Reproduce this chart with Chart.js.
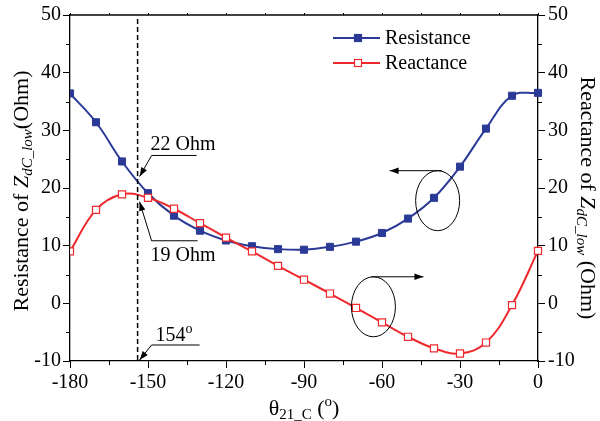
<!DOCTYPE html>
<html>
<head>
<meta charset="utf-8">
<script src="https://cdn.jsdelivr.net/npm/chart.js@4.4.1/dist/chart.umd.min.js"></script>
<style>
  html, body { margin: 0; padding: 0; background: #fff; }
  #wrap { width: 600px; height: 421px; }
</style>
</head>
<body>
<div id="wrap"><canvas id="chart" width="600" height="421"></canvas></div>
<script>
// phase angle theta_21_C in degrees
const angles = [-180, -170, -160, -150, -140, -130, -120, -110, -100, -90,
                -80, -70, -60, -50, -40, -30, -20, -10, 0];
// resistance and reactance of Z_dC_low (Ohm)
const resistance = [36.4, 31.4, 24.6, 19.1, 15.2, 12.6, 10.9, 9.9, 9.4, 9.3,
                    9.8, 10.7, 12.2, 14.7, 18.3, 23.7, 30.3, 36.0, 36.5];
const reactance = [9.0, 16.2, 18.9, 18.3, 16.4, 13.9, 11.4, 9.0, 6.5, 4.1,
                   1.7, -0.8, -3.3, -5.8, -7.8, -8.7, -6.8, -0.3, 9.1];

const xTicks = [-180, -150, -120, -90, -60, -30, 0];
const yTicks = [-10, 0, 10, 20, 30, 40, 50];

// marked operating point
const markAngle = -154;
const markResistance = 22;
const markReactance = 19;

const BLUE = '#2B3A96';
const RED = '#EE2A2E';
const SERIF = '"Liberation Serif", "Times New Roman", serif';

function toPoints(ys) {
    return angles.map((a, i) => ({ x: a, y: ys[i] }));
}

// draw a row of text pieces with different fonts / baseline shifts
function drawRuns(ctx, runs, x, y, align) {
    let total = 0;
    runs.forEach(r => { ctx.font = r.font; r.w = ctx.measureText(r.text).width; total += r.w; });
    let cx = align === 'center' ? x - total / 2 : x;
    ctx.textAlign = 'left';
    ctx.textBaseline = 'alphabetic';
    runs.forEach(r => {
        ctx.font = r.font;
        ctx.fillText(r.text, cx, y + (r.dy || 0));
        cx += r.w;
    });
}

function arrowHead(ctx, fromX, fromY, toX, toY) {
    const ang = Math.atan2(toY - fromY, toX - fromX);
    const len = 9, half = 3.2;
    ctx.beginPath();
    ctx.moveTo(toX, toY);
    ctx.lineTo(toX - len * Math.cos(ang) + half * Math.sin(ang), toY - len * Math.sin(ang) - half * Math.cos(ang));
    ctx.lineTo(toX - len * Math.cos(ang) - half * Math.sin(ang), toY - len * Math.sin(ang) + half * Math.cos(ang));
    ctx.closePath();
    ctx.fill();
}

const decorations = {
    id: 'decorations',
    afterDraw(chart) {
        const { ctx, chartArea: area } = chart;
        const xs = chart.scales.x, ys = chart.scales.y;
        const f20 = '20px ' + SERIF;
        const f22 = '22px ' + SERIF;
        const fi22 = 'italic 22px ' + SERIF;
        const fi15 = 'italic 15px ' + SERIF;
        const f15 = '15px ' + SERIF;
        const f14 = '14px ' + SERIF;
        ctx.save();
        ctx.strokeStyle = '#000';
        ctx.fillStyle = '#000';

        // top frame line
        ctx.lineWidth = 1.3;
        ctx.beginPath();
        ctx.moveTo(area.left, area.top);
        ctx.lineTo(area.right, area.top);
        ctx.stroke();

        // minor ticks
        ctx.lineWidth = 1;
        ctx.beginPath();
        for (let v = -180; v <= 0; v += 15) {
            const px = Math.round(xs.getPixelForValue(v)) + 0.5;
            if (v % 30 !== 0) {
                ctx.moveTo(px, area.bottom);
                ctx.lineTo(px, area.bottom + 4);
            }
            ctx.moveTo(px, area.top);
            ctx.lineTo(px, area.top - 2);
        }
        for (let v = -5; v <= 45; v += 10) {
            const py = Math.round(ys.getPixelForValue(v)) + 0.5;
            ctx.moveTo(area.left, py);
            ctx.lineTo(area.left - 4, py);
            ctx.moveTo(area.right, py);
            ctx.lineTo(area.right + 4, py);
        }
        ctx.stroke();

        // dashed marker line
        const mx = xs.getPixelForValue(markAngle);
        ctx.lineWidth = 1.5;
        ctx.setLineDash([5, 3]);
        ctx.beginPath();
        ctx.moveTo(mx, area.top + 4);
        ctx.lineTo(mx, area.bottom);
        ctx.stroke();
        ctx.setLineDash([]);

        // callouts: tip on the marked line, elbow, horizontal leader
        ctx.lineWidth = 1;
        const callout = (tipY, dy, lineLen, runs, textDy) => {
            const tx = mx + 2, ex = mx + 14, ey = tipY + dy;
            ctx.beginPath();
            ctx.moveTo(ex + lineLen, ey);
            ctx.lineTo(ex, ey);
            ctx.lineTo(tx, tipY);
            ctx.stroke();
            arrowHead(ctx, ex, ey, tx, tipY);
            drawRuns(ctx, runs, ex - 1, ey + textDy, 'left');
        };
        callout(ys.getPixelForValue(markResistance), -21, 45, [{ text: '22 Ohm', font: f20 }], -5);
        callout(ys.getPixelForValue(markReactance) + 8, 39, 46, [{ text: '19 Ohm', font: f20 }], 20);
        callout(area.bottom - 1, -15, 48, [{ text: ' ' + String(-markAngle), font: f20 }, { text: 'o', font: f14, dy: -8 }], -4);

        // grouping ellipses with arrows toward their axes
        const ellipse = (cx, cy, dir) => {
            ctx.beginPath();
            ctx.ellipse(cx, cy, 22, 30, 0, 0, Math.PI * 2);
            ctx.stroke();
            const sy = cy - 30, sx = cx + (dir < 0 ? 4 : -2), exx = sx + dir * 52;
            ctx.beginPath();
            ctx.moveTo(sx, sy);
            ctx.lineTo(exx, sy);
            ctx.stroke();
            arrowHead(ctx, sx, sy, exx, sy);
        };
        ellipse(xs.getPixelForValue(-38.6), ys.getPixelForValue(17.8), -1);
        ellipse(xs.getPixelForValue(-63.3), ys.getPixelForValue(-0.6), 1);

        // legend
        const legendItems = [
            { label: 'Resistance', color: BLUE, fill: BLUE, y: 38 },
            { label: 'Reactance', color: RED, fill: '#fff', y: 63 }
        ];
        legendItems.forEach(it => {
            ctx.strokeStyle = it.color;
            ctx.lineWidth = 2;
            ctx.beginPath();
            ctx.moveTo(333, it.y);
            ctx.lineTo(380, it.y);
            ctx.stroke();
            ctx.fillStyle = it.fill;
            ctx.fillRect(354.5, it.y - 3.5, 7, 7);
            ctx.lineWidth = 1.2;
            ctx.strokeRect(354.5, it.y - 3.5, 7, 7);
            ctx.fillStyle = '#000';
            ctx.font = f20;
            ctx.textAlign = 'left';
            ctx.textBaseline = 'middle';
            ctx.fillText(it.label, 385, it.y + 1);
        });

        // axis titles
        const midY = (area.top + area.bottom) / 2;
        ctx.fillStyle = '#000';
        ctx.save();
        ctx.translate(20, midY + 3);
        ctx.rotate(-Math.PI / 2);
        drawRuns(ctx, [
            { text: 'Resistance of ', font: f22 },
            { text: 'Z', font: fi22 },
            { text: 'dC_low', font: fi15, dy: 4 },
            { text: '(Ohm)', font: f22 }
        ], 0, 8, 'center');
        ctx.restore();

        ctx.save();
        ctx.translate(589, midY + 10);
        ctx.rotate(Math.PI / 2);
        drawRuns(ctx, [
            { text: 'Reactance of ', font: f22 },
            { text: 'Z', font: fi22 },
            { text: 'dC_low', font: fi15, dy: 4 },
            { text: ' (Ohm)', font: f22 }
        ], 0, 8, 'center');
        ctx.restore();

        drawRuns(ctx, [
            { text: '\u03B8', font: f22 },
            { text: '21_C', font: f15, dy: 4 },
            { text: ' (', font: f22 },
            { text: 'o', font: f15, dy: -9 },
            { text: ')', font: f22 }
        ], (area.left + area.right) / 2, 415, 'center');

        ctx.restore();
    }
};

const tickFont = { family: SERIF, size: 20 };

new Chart(document.getElementById('chart'), {
    type: 'line',
    data: {
        datasets: [
            {
                label: 'Resistance',
                data: toPoints(resistance),
                yAxisID: 'y',
                borderColor: BLUE,
                backgroundColor: BLUE,
                borderWidth: 2,
                pointStyle: 'rect',
                pointRadius: 5,
                pointBorderWidth: 1,
                pointBackgroundColor: BLUE,
                pointBorderColor: BLUE,
                tension: 0.4,
                order: 2,
                clip: { left: 0, right: 8, top: 8, bottom: 8 }
            },
            {
                label: 'Reactance',
                data: toPoints(reactance),
                yAxisID: 'y2',
                borderColor: RED,
                backgroundColor: '#fff',
                borderWidth: 2,
                pointStyle: 'rect',
                pointRadius: 5,
                pointBorderWidth: 1.2,
                pointBackgroundColor: '#fff',
                pointBorderColor: RED,
                tension: 0.4,
                order: 1,
                clip: { left: 0, right: 8, top: 8, bottom: 8 }
            }
        ]
    },
    options: {
        responsive: false,
        animation: false,
        layout: { padding: { top: 13, left: 0, right: 0, bottom: 0 } },
        plugins: { legend: { display: false }, tooltip: { enabled: false } },
        scales: {
            x: {
                type: 'linear',
                position: 'bottom',
                min: -180,
                max: 0,
                afterBuildTicks: s => { s.ticks = xTicks.map(v => ({ value: v })); },
                afterFit: s => { s.height = 60; },
                ticks: { font: tickFont, color: '#000', padding: 3, maxRotation: 0 },
                grid: { drawOnChartArea: false, tickLength: 7, tickColor: '#000', tickWidth: 1 },
                border: { color: '#000', width: 1.3 }
            },
            y: {
                type: 'linear',
                position: 'left',
                min: -10,
                max: 50,
                afterBuildTicks: s => { s.ticks = yTicks.map(v => ({ value: v })); },
                afterFit: s => { s.width = 70; },
                ticks: { font: tickFont, color: '#000', padding: 2 },
                grid: { drawOnChartArea: false, tickLength: 7, tickColor: '#000', tickWidth: 1 },
                border: { color: '#000', width: 1.3 }
            },
            y2: {
                type: 'linear',
                position: 'right',
                min: -10,
                max: 50,
                afterBuildTicks: s => { s.ticks = yTicks.map(v => ({ value: v })); },
                afterFit: s => { s.width = 62; },
                ticks: { font: tickFont, color: '#000', padding: 3 },
                grid: { drawOnChartArea: false, tickLength: 7, tickColor: '#000', tickWidth: 1 },
                border: { color: '#000', width: 1.3 }
            }
        }
    },
    plugins: [decorations]
});
</script>
</body>
</html>
